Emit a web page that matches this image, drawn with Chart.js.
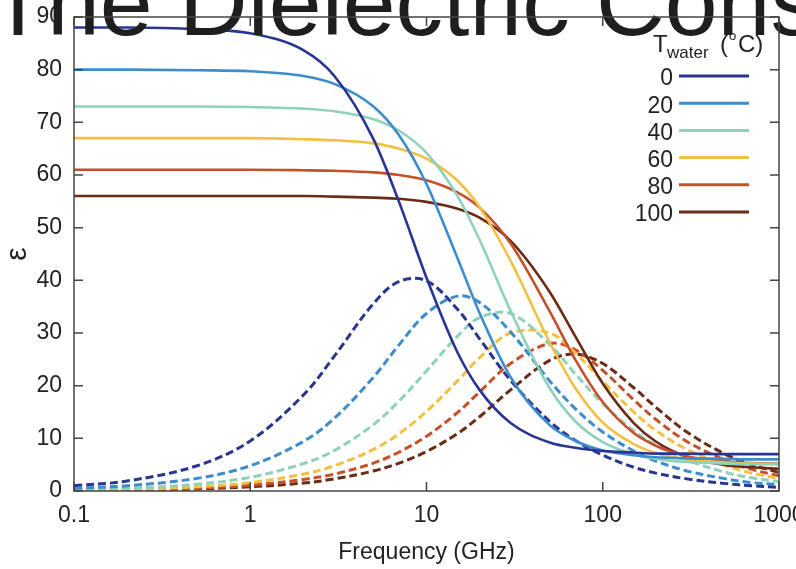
<!DOCTYPE html>
<html lang="en">
<head>
  <meta charset="UTF-8" />
  <title>The Dielectric Constant of Water</title>
  <script src="https://cdn.jsdelivr.net/npm/chart.js"></script>
  <style>
    html, body { margin: 0; padding: 0; background: #ffffff; overflow: hidden; }
    #wrap { width: 796px; height: 569px; position: relative; }
  </style>
</head>
<body>
  <div id="wrap"><canvas id="chartWater"></canvas></div>

  <script>
    // frequencies (GHz) and tick positions
    const freqs = [0.1, 0.2, 0.5, 1, 2, 3, 5, 7, 10, 15, 20, 30, 50, 70, 100, 150, 200, 300, 500, 700, 1000];
    const xTicks = [0.1, 1, 10, 100, 1000];
    const temps = ['0', '20', '40', '60', '80', '100'];
    const colors = ['#2a3593', '#3d8ccc', '#8ed1bc', '#f2c043', '#c4512a', '#6b2b15'];

    const real0   = [88.0, 88.0, 87.7, 86.9, 83.7, 78.8, 66.8, 54.8, 40.5, 26.3, 19.2, 12.9, 9.2, 8.2, 7.6, 7.3, 7.1, 7.1, 7.0, 7.0, 7.0];
    const real20  = [80.0, 80.0, 79.9, 79.7, 78.8, 77.3, 73.0, 67.5, 58.3, 44.2, 33.8, 21.6, 12.5, 9.5, 7.7, 6.8, 6.4, 6.2, 6.1, 6.0, 6.0];
    const real40  = [73.0, 73.0, 73.0, 72.9, 72.6, 72.1, 70.6, 68.4, 64.2, 56.0, 47.7, 34.2, 19.5, 13.2, 9.3, 7.0, 6.1, 5.5, 5.2, 5.1, 5.1];
    const real60  = [67.0, 67.0, 67.0, 67.0, 66.8, 66.6, 66.0, 65.0, 63.1, 58.9, 53.9, 43.7, 28.2, 19.5, 13.0, 8.9, 7.2, 6.0, 5.4, 5.2, 5.1];
    const real80  = [61.0, 61.0, 61.0, 61.0, 60.9, 60.8, 60.5, 60.0, 59.0, 56.7, 53.8, 47.0, 34.1, 24.9, 16.9, 11.0, 8.6, 6.6, 5.6, 5.3, 5.2];
    const real100 = [56.0, 56.0, 56.0, 56.0, 56.0, 55.9, 55.7, 55.5, 54.9, 53.6, 51.9, 47.5, 37.8, 29.3, 20.4, 12.9, 9.4, 6.5, 4.9, 4.5, 4.2];

    // imaginary part (dashed lines)
    const imag0   = [1.0, 1.9, 4.8, 9.5, 18.2, 25.6, 35.6, 39.8, 39.9, 34.5, 28.9, 21.0, 13.2, 9.6, 6.8, 4.5, 3.4, 2.3, 1.4, 1.0, 0.7];
    const imag20  = [0.5, 1.0, 2.4, 4.8, 9.4, 13.8, 21.6, 27.8, 33.7, 37.0, 35.8, 30.2, 20.9, 15.6, 11.2, 7.6, 5.7, 3.8, 2.3, 1.6, 1.2];
    const imag40  = [0.3, 0.5, 1.3, 2.6, 5.2, 7.7, 12.6, 17.1, 22.8, 29.4, 32.9, 33.7, 27.8, 22.2, 16.6, 11.4, 8.7, 5.9, 3.5, 2.5, 1.8];
    const imag60  = [0.2, 0.3, 0.8, 1.6, 3.2, 4.8, 7.9, 10.9, 15.1, 20.9, 25.3, 30.0, 30.0, 26.2, 20.8, 15.0, 11.5, 7.9, 4.8, 3.4, 2.4];
    const imag80  = [0.1, 0.2, 0.5, 1.1, 2.2, 3.2, 5.3, 7.4, 10.4, 14.9, 18.8, 24.2, 28.0, 26.8, 22.9, 17.3, 13.6, 9.4, 5.8, 4.1, 2.9];
    const imag100 = [0.1, 0.2, 0.4, 0.8, 1.5, 2.3, 3.8, 5.3, 7.5, 10.9, 14.1, 19.2, 24.8, 26.0, 24.2, 19.6, 15.9, 11.2, 6.9, 5.0, 3.5];

    const realSeries = [real0, real20, real40, real60, real80, real100];
    const imagSeries = [imag0, imag20, imag40, imag60, imag80, imag100];

    const FONT = "'Liberation Sans', Arial, Helvetica, sans-serif";
    const INK = '#222222';

    const toPoints = vals => freqs.map((f, i) => ({ x: f, y: vals[i] }));

    const datasets = [];
    realSeries.forEach((vals, i) => {
      datasets.push({
        label: temps[i], data: toPoints(vals), borderColor: colors[i],
        borderWidth: 2.6, pointRadius: 0, fill: false, cubicInterpolationMode: 'monotone'
      });
    });
    imagSeries.forEach((vals, i) => {
      datasets.push({
        label: temps[i] + ' imag', data: toPoints(vals), borderColor: colors[i],
        borderWidth: 3, borderDash: [8, 4], pointRadius: 0, fill: false, tension: 0.35
      });
    });

    // frame, inward ticks, big title and legend
    const decorations = {
      id: 'decorations',
      afterDraw(chart) {
        const ctx = chart.ctx;
        const a = chart.chartArea;
        const xs = chart.scales.x, ys = chart.scales.y;
        ctx.save();

        // title overlapping the plot, as in the source picture
        ctx.fillStyle = '#1e1e1e';
        ctx.font = '95px ' + FONT;
        ctx.textAlign = 'left';
        ctx.textBaseline = 'alphabetic';
        ctx.fillText('The Dielectric Constant of Water', -11, 35);

        // frame
        ctx.strokeStyle = '#444444';
        ctx.lineWidth = 1.5;
        ctx.strokeRect(a.left, a.top, a.right - a.left, a.bottom - a.top);

        // inward ticks
        ctx.beginPath();
        xTicks.forEach(v => {
          const px = xs.getPixelForValue(v);
          ctx.moveTo(px, a.bottom); ctx.lineTo(px, a.bottom - 9);
          ctx.moveTo(px, a.top); ctx.lineTo(px, a.top + 9);
        });
        for (let v = 0; v <= 90; v += 10) {
          const py = ys.getPixelForValue(v);
          ctx.moveTo(a.left, py); ctx.lineTo(a.left + 9, py);
          ctx.moveTo(a.right, py); ctx.lineTo(a.right - 9, py);
        }
        ctx.stroke();

        // legend header: T_water (°C)
        ctx.fillStyle = INK;
        ctx.font = '24px ' + FONT;
        ctx.fillText('T', 653, 52);
        ctx.font = '17px ' + FONT;
        ctx.fillText('water', 667, 58);
        ctx.font = '24px ' + FONT;
        ctx.fillText('(', 720, 52);
        ctx.font = '13px ' + FONT;
        ctx.fillText('o', 729, 40);
        ctx.font = '24px ' + FONT;
        ctx.fillText('C)', 738, 52);

        // legend entries
        temps.forEach((t, i) => {
          const y = 76 + i * 27.2;
          ctx.font = '23px ' + FONT;
          ctx.textAlign = 'right';
          ctx.textBaseline = 'middle';
          ctx.fillStyle = INK;
          ctx.fillText(t, 673, y + 3);
          ctx.strokeStyle = colors[i];
          ctx.lineWidth = 3;
          ctx.beginPath();
          ctx.moveTo(679, y); ctx.lineTo(749, y);
          ctx.stroke();
        });
        ctx.restore();
      }
    };

    const ctx = document.getElementById('chartWater').getContext('2d');
    const chart = new Chart(ctx, {
      type: 'line',
      data: { datasets },
      options: {
        responsive: true,
        maintainAspectRatio: false,
        animation: false,
        layout: { padding: { top: 17, right: 17, left: 0, bottom: 0 } },
        plugins: {
          legend: { display: false },
          title: { display: false },
          tooltip: { enabled: false }
        },
        scales: {
          x: {
            type: 'logarithmic',
            min: 0.1, max: 1000,
            grid: { display: false, drawTicks: false },
            border: { display: false },
            afterBuildTicks: s => { s.ticks = xTicks.map(v => ({ value: v })); },
            afterFit: s => { s.height = 78; s.paddingLeft = 0; s.paddingRight = 0; },
            ticks: {
              color: INK, padding: 11, maxRotation: 0, autoSkip: false,
              font: { family: FONT, size: 23 },
              callback: v => String(v)
            },
            title: {
              display: true, text: 'Frequency (GHz)', color: INK,
              font: { family: FONT, size: 23 }, padding: { top: 0, bottom: 3 }
            }
          },
          y: {
            min: 0, max: 90,
            grid: { display: false, drawTicks: false },
            border: { display: false },
            afterFit: s => { s.width = 74; s.paddingTop = 0; s.paddingBottom = 0; },
            ticks: {
              stepSize: 10, color: INK, padding: 12,
              font: { family: FONT, size: 23 }
            },
            title: {
              display: true, text: 'ε', color: INK,
              font: { family: FONT, size: 30 }, padding: { top: 0, bottom: 0 }
            }
          }
        }
      },
      plugins: [decorations]
    });
  </script>
</body>
</html>
